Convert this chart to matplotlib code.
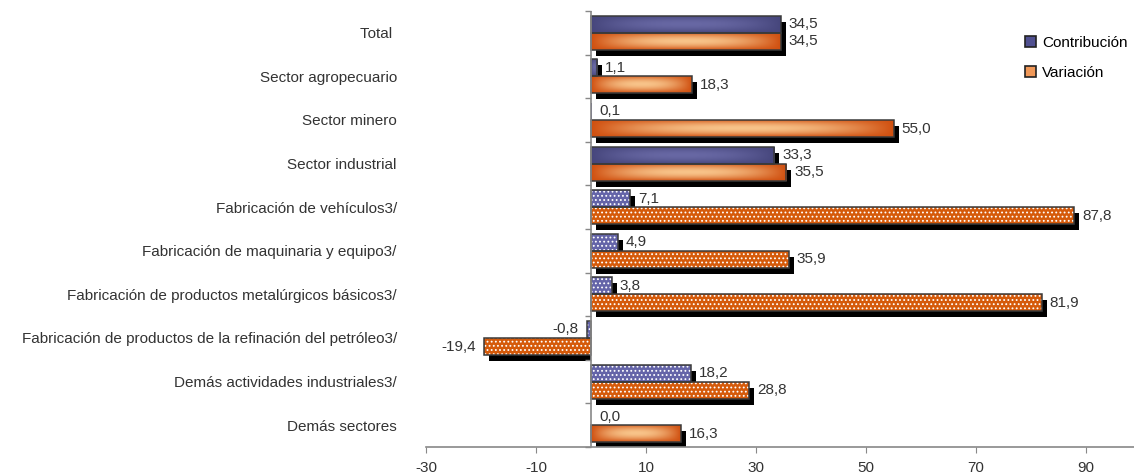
import numpy as np
import matplotlib
matplotlib.use("Agg")
import matplotlib.pyplot as plt
from matplotlib import transforms
from matplotlib.patches import Patch, Rectangle

plt.rcParams['font.family'] = ['Liberation Sans', 'DejaVu Sans']
plt.rcParams['hatch.linewidth'] = 0.8

categories = ["Total ", "Sector agropecuario", "Sector minero", "Sector industrial",
              "Fabricación de vehículos3/", "Fabricación de maquinaria y equipo3/",
              "Fabricación de productos metalúrgicos básicos3/",
              "Fabricación de productos de la refinación del petróleo3/",
              "Demás actividades industriales3/", "Demás sectores"]
contribucion = [34.5, 1.1, 0.1, 33.3, 7.1, 4.9, 3.8, -0.8, 18.2, 0.0]
variacion = [34.5, 18.3, 55.0, 35.5, 87.8, 35.9, 81.9, -19.4, 28.8, 16.3]
patterned = [False, False, False, False, True, True, True, True, True, False]
xticks = [-30, -10, 10, 30, 50, 70, 90]
series_names = ["Contribución", "Variación"]

W, H = 1134, 475
fig = plt.figure(figsize=(W / 100, H / 100), dpi=100)
ax = fig.add_axes([426 / W, 1 - 447 / H, 1 - 426 / W, (447 - 11) / H])

n = len(categories)
y = np.arange(n)
bh = 0.39
off = 0.195

blue_solid_edge = np.array([0x46, 0x46, 0x7C]) / 255
blue_solid_center = np.array([0x68, 0x68, 0xA4]) / 255
orange_solid_edge = np.array([0xD0, 0x50, 0x10]) / 255
orange_solid_center = np.array([0xF8, 0xC4, 0x8A]) / 255
blue_dot = "#6464A8"
orange_dot = "#D55A0A"
outline = "#3A3A3A"

shadow_tr = transforms.offset_copy(ax.transData, fig=fig, x=5, y=-6, units='dots')
neg_clip = Rectangle((-30, -1), 30, n + 2, transform=ax.transData)

series = [(contribucion, -off, blue_solid_edge, blue_solid_center, blue_dot),
          (variacion, off, orange_solid_edge, orange_solid_center, orange_dot)]

# shadows
for vals, dy, *_ in series:
    sb = ax.barh(y + dy, vals, height=bh, color='black', linewidth=0, zorder=1)
    for p, v in zip(sb, vals):
        p.set_transform(shadow_tr)
        if abs(v) < 0.5:
            p.set_visible(False)
        elif v < 0:
            p.set_clip_path(neg_clip)

nx, ny = 300, 40
u = np.linspace(0, 1, nx)
v = np.linspace(0, 1, ny)
U, V = np.meshgrid(u, v)
tgrid = (1 - np.abs(2 * U - 1) ** 2.2) * (1 - np.abs(2 * V - 1) ** 1.8)

for vals, dy, c_edge, c_center, c_dot in series:
    # solid (gradient) bars
    sb = ax.barh(y + dy, vals, height=bh, color=c_edge, linewidth=0, zorder=2)
    for p, pt, val in zip(sb, patterned, vals):
        if pt:
            p.set_visible(False)
            continue
        x0, x1 = sorted([0, val])
        if x1 - x0 <= 0:
            continue
        img = c_edge[None, None, :] + tgrid[:, :, None] * (c_center - c_edge)[None, None, :]
        yy = p.get_y()
        im = ax.imshow(img, extent=(x0, x1, yy + bh, yy), aspect='auto',
                       interpolation='bilinear', zorder=2.5)
        im.set_clip_path(p)
    # dotted bars
    db = ax.barh(y + dy, vals, height=bh, color=c_dot, edgecolor='white',
                 linewidth=0, hatch='....', zorder=3)
    for p, pt in zip(db, patterned):
        if not pt:
            p.set_visible(False)
    # outlines
    ob = ax.barh(y + dy, vals, height=bh, fill=False, edgecolor=outline,
                 linewidth=1.1, zorder=4)
    for p, val in zip(ob, vals):
        if abs(val) < 0.5:
            p.set_visible(False)

# value labels
for vals, dy, *_ in series:
    for yi, val in zip(y, vals):
        txt = f"{val:.1f}".replace(".", ",")
        if val < 0:
            ax.annotate(txt, (val, yi + dy), xytext=(-8, 0), textcoords='offset pixels',
                        ha='right', va='center', fontsize=11, color='#333333')
        else:
            ax.annotate(txt, (val, yi + dy), xytext=(8, 0), textcoords='offset pixels',
                        ha='left', va='center', fontsize=11, color='#333333')

ax.set_xlim(-30, 98.7)
ax.set_ylim(n - 0.5, -0.5)

ax.set_yticks(y)
ax.set_yticklabels(categories, fontsize=11, color='#333333')
ax.tick_params(axis='y', length=0, pad=21)
ax.set_xticks(xticks)
ax.set_xticklabels([str(t) for t in xticks], fontsize=11, color='#333333')
ax.tick_params(axis='x', direction='out', length=4, color='#888888', pad=6)

for s in ['top', 'right', 'left']:
    ax.spines[s].set_visible(False)
ax.spines['bottom'].set_color('#888888')
ax.spines['bottom'].set_linewidth(1.2)

ax.axvline(0, color='#888888', linewidth=1.2, zorder=5)
ax.plot(np.zeros(n + 1), np.arange(n + 1) - 0.5, linestyle='none', marker=0,
        markersize=4, color='#888888', markeredgewidth=1.0, clip_on=False, zorder=5)

handles = [Patch(facecolor='#505090', edgecolor='#222222', linewidth=1.2),
           Patch(facecolor='#F09858', edgecolor='#222222', linewidth=1.2)]
fig.legend(handles, series_names, loc='upper left',
           bbox_to_anchor=(1025 / W, 1 - 36 / H), frameon=False, fontsize=11,
           handlelength=0.75, handleheight=0.75, handletextpad=0.35, labelspacing=1.05,
           borderaxespad=0, borderpad=0)

fig.savefig("out.png", dpi=100)
